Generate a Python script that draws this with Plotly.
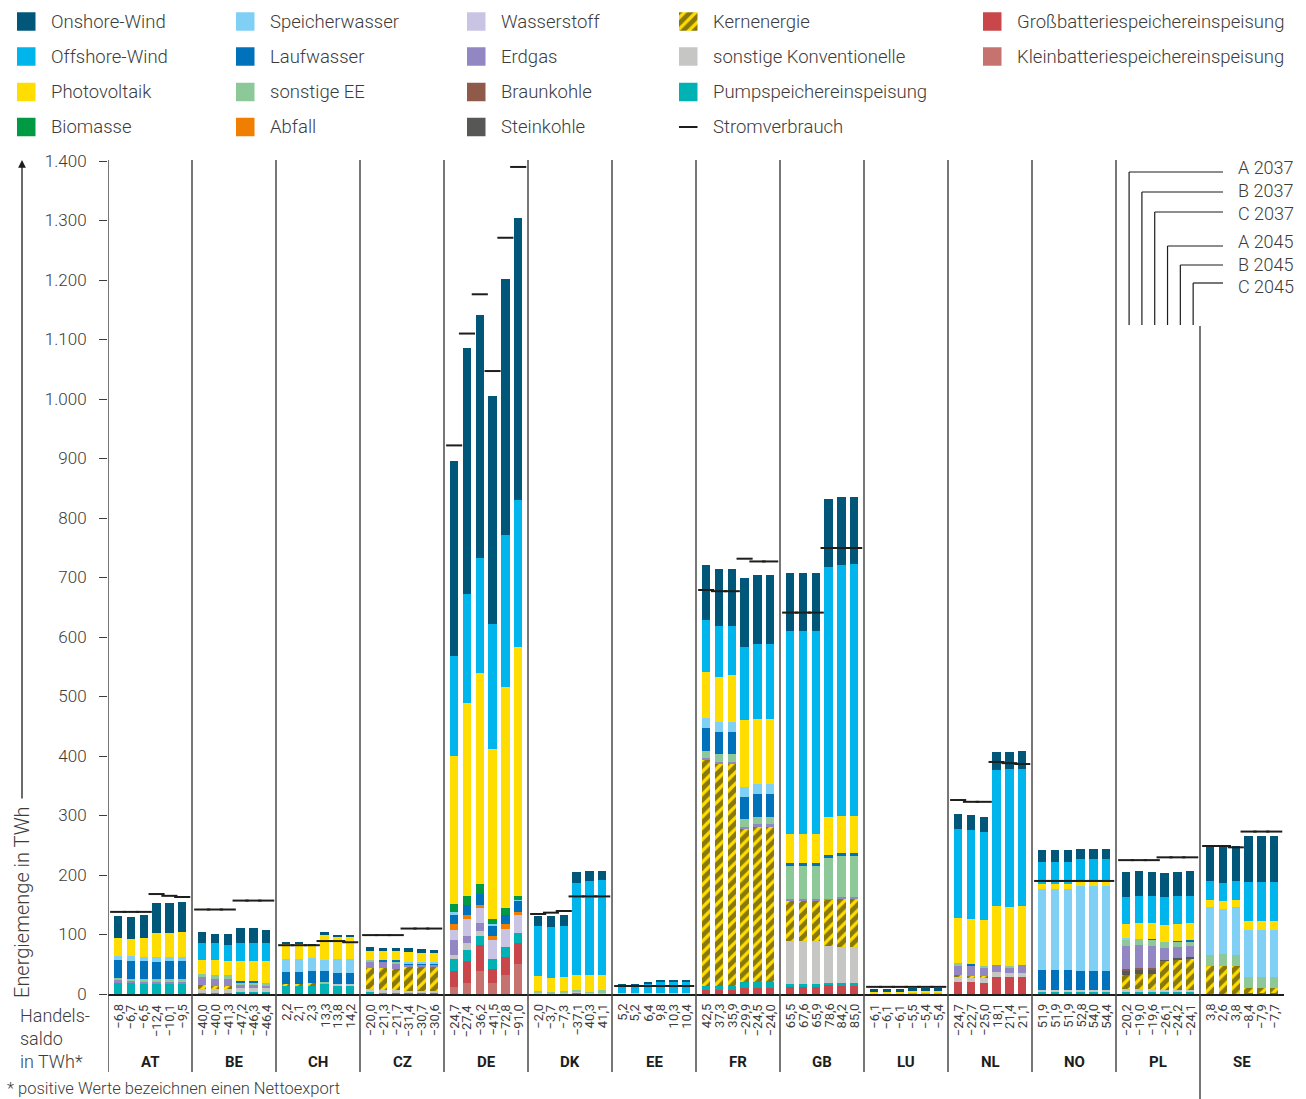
import plotly.graph_objects as go

W, H = 1306, 1099
countries = ["AT", "BE", "CH", "CZ", "DE", "DK", "EE", "FR", "GB", "LU", "NL", "NO", "PL", "SE"]
scenarios = ["A 2037", "B 2037", "C 2037", "A 2045", "B 2045", "C 2045"]

# ---- values (TWh), 6 scenarios per country, countries in the order above ----
kleinbatterie = [0]*6 + [0]*6 + [0]*6 + [0]*6 + [12, 18, 38.7, 18.5, 32, 50.4] + [0]*6*9
grossbatterie = ([0]*6 + [0, 0, 0, 3, 3, 3] + [0.8, 0.8, 0.8, 0, 0, 0] + [1, 1, 1, 0.5, 0.5, 0.5]
                 + [26, 37, 43.7, 23.5, 30, 35.3] + [0, 0, 0, 1.5, 0, 0] + [0]*6
                 + [6.7, 6.7, 6.7, 10, 10, 10] + [11.8, 11.8, 11.8, 15, 13.4, 13.4] + [0]*6
                 + [20, 20, 18.5, 28.6, 28.6, 28.6] + [0]*6 + [0]*6 + [0, 0, 0, 2.2, 2.2, 2.2])
pumpspeicher = ([18, 18, 17, 17, 17, 17] + [2, 2, 2, 1, 1, 1] + [12, 12, 12, 16, 13, 13]
                + [2, 2, 2, 2.5, 2.5, 2.5] + [20, 19, 15, 17, 17, 16.8] + [1, 0, 1, 1, 0, 0]
                + [0]*6 + [7.3, 7.3, 7.3, 10, 10, 10] + [5, 5, 5, 3.5, 5, 5] + [0.5]*6
                + [0]*6 + [4]*6 + [3.9, 3.9, 3.9, 3.4, 3.4, 3.4] + [0]*6)
sonst_konv = ([0]*6 + [7, 7, 7, 6, 6, 6] + [0, 0, 0, 0, 4.5, 4.5] + [5, 3, 3, 2.8, 2.8, 2.8]
              + [7, 12, 8.5, 0, 0, 0] + [1, 1.4, 1, 1, 2, 1.7] + [0]*6 + [0]*6
              + [72.2, 72.2, 72.2, 62.2, 60.5, 60.5] + [0]*6 + [8.6, 7, 8.5, 8.4, 6.7, 6.7]
              + [2.7]*6 + [4.5, 4.5, 4.5, 3.3, 3.3, 3.3] + [0]*6)
kernenergie = ([0]*6 + [6, 5, 5, 0, 0, 0] + [4.5, 4.5, 6.5, 0, 0, 0] + [35, 37, 36, 39, 39, 39]
               + [0]*6 + [0]*6 + [0]*6 + [380, 372.5, 372.5, 258.4, 260.7, 260.7]
               + [67.3, 67.3, 67.3, 77.3, 80.7, 80.7] + [0]*6 + [3.4, 3, 3.5, 0, 0, 0]
               + [0]*6 + [23.6, 25.6, 25.6, 49.3, 51, 51.5] + [47.6, 47.6, 47.6, 8.4, 8.4, 8.4])
steinkohle = [0]*6*12 + [6.7, 6.3, 6.3, 1.7, 2.8, 3.4] + [0]*6
braunkohle = [0]*6*12 + [3.3, 3.4, 3.9, 0, 0, 0] + [0]*6
erdgas = ([5, 4, 4, 4, 4, 4] + [14, 12, 11, 6, 6, 5] + [0]*6 + [10, 11, 10, 4.5, 4.5, 4.5]
          + [25, 12, 13.5, 0, 0, 0] + [0]*6 + [0]*6 + [3, 3.5, 3.5, 2.3, 5, 5]
          + [3.4, 3.4, 3.4, 1.7, 3.4, 3.4] + [0]*6 + [16.7, 17, 14, 11.8, 10, 13.4]
          + [0]*6 + [39, 38.7, 37, 20, 19, 18.5] + [0]*6)
wasserstoff = [0]*6*4 + [18, 28.5, 25, 32, 30, 30.5] + [0]*6*9
abfall = [0]*6*4 + [9, 7, 5, 6.5, 8.5, 5] + [0]*6*9
sonstige_ee = ([3.5, 3.5, 4.5, 4.5, 4.5, 4.5] + [4, 6, 7, 3, 3, 3] + [0, 0, 0, 3.4, 0, 0]
               + [4.5, 0, 3, 0, 0, 0] + [0]*6 + [3, 2, 3, 3, 2, 5] + [0, 0, 0, 1, 1, 1]
               + [11, 13, 13, 13.7, 11.8, 11.8] + [55.5, 55.5, 55.5, 68.3, 69, 69] + [1]*6
               + [3.3, 0, 3, 0, 1.7, 0] + [0]*6 + [11, 10, 10, 9.5, 8.4, 8.4]
               + [18, 19.6, 18, 18, 18, 18])
laufwasser = ([30, 30, 30, 29, 30, 30] + [0, 0, 0, 2.8, 2.8, 0] + [19, 19, 19, 20, 18.5, 18.5]
              + [0, 3, 2, 2, 2, 2] + [15, 16, 18.5, 16.5, 15.5, 18.5] + [0]*6 + [0]*6
              + [39, 37, 37, 37, 38.5, 38.5] + [5]*6 + [0]*6 + [0, 3.4, 0, 0, 0, 0]
              + [33.7, 33.7, 33.7, 32, 32, 32] + [0, 0, 1.7, 0, 1.7, 1.7] + [0]*6)
speicherwasser = ([8, 8, 7, 8, 6, 7] + [0]*6 + [22, 22, 22, 18.5, 22, 22] + [0, 0, 0, 2, 2, 2]
                  + [5, 0, 0, 3.5, 0, 1.5] + [0]*6 + [0]*6 + [17]*6 + [0]*6 + [0]*6 + [0]*6
                  + [136, 136, 136, 143.3, 143.3, 143.3] + [2.7, 0, 0, 0, 0, 0]
                  + [80.5, 75.8, 80.5, 79, 79, 79])
biomasse = [0]*6*4 + [15, 15.5, 17, 8.5, 11.5, 6.7] + [0]*6*9
photovoltaik = ([29, 29, 32, 40, 41, 41] + [24, 25, 23.5, 33.6, 33.6, 37.5] + [25, 25, 22, 41, 37, 39]
                + [15, 16, 16, 17, 16, 16] + [248, 324, 354, 286, 371.5, 418]
                + [25, 23.6, 23.6, 25.3, 28, 25.3] + [1.7, 1.7, 1.7, 1, 1, 1]
                + [77, 76, 79, 112.5, 109, 109] + [49, 49, 49, 64, 62, 62] + [2, 2, 2, 3.5, 3.5, 3.5]
                + [75.7, 75.6, 77.4, 99.2, 99, 99.3] + [9, 9, 9, 7, 7, 7]
                + [23.3, 27.3, 26.3, 28.6, 28.6, 28.6] + [12, 13.3, 12, 15, 15, 15])
offshore = ([0]*6 + [29, 28.5, 27, 30, 30, 30] + [0]*6 + [0]*6 + [168, 183, 194, 210, 255, 247]
            + [84, 85.6, 86, 154.5, 158, 159.6] + [10.6, 10.6, 14.6, 17.4, 17.4, 17.4]
            + [87.5, 85.5, 82.5, 122.5, 126, 126] + [341, 341, 341, 420, 422, 423.7] + [0]*6
            + [149.6, 149.6, 148, 228.5, 232, 230] + [36.4, 36.4, 36.4, 38, 38, 38]
            + [45, 45.4, 45.4, 47, 46.4, 46.4] + [32, 30.2, 32, 65.6, 65.6, 65.6])
onshore = ([37.5, 37.5, 37.5, 50.5, 50.5, 50.5] + [18.5, 15, 18.5, 25, 25, 22] + [4, 4, 2, 5, 5, 2.8]
           + [7, 5, 5, 7, 7, 5] + [327, 414, 408, 383, 431, 474] + [17, 18.4, 18.4, 18.5, 17, 15.4]
           + [4.5, 4.5, 3.7, 4, 4, 4] + [92.4, 95.5, 95.5, 116, 116, 116]
           + [97.6, 97.6, 97.6, 114.4, 114, 112.3] + [5.5]*6 + [24.8, 25.2, 25.2, 30.2, 28.7, 30.4]
           + [20.2, 20.2, 20.2, 16.8, 16.8, 16.8] + [42.6, 40.9, 40.9, 41, 40.9, 40.9]
           + [59.3, 62.8, 59.3, 77.5, 77.5, 77.5])
stromverbrauch = ([138, 138, 138, 168, 165, 163] + [142, 142, 142, 157, 157, 157] + [82, 82, 82, 89, 89, 87]
                  + [99, 99, 99, 110, 110, 110] + [922, 1110, 1176, 1047, 1271, 1390]
                  + [134.5, 136.7, 139.5, 164, 164, 164] + [13.4]*6 + [679, 677, 677, 731.6, 727, 727]
                  + [641, 641, 641, 749.6, 749.6, 749.6] + [12]*6 + [326, 323, 323, 390, 388, 386.5]
                  + [190]*6 + [225, 225, 225, 229.7, 229.7, 229.7] + [248.7, 248.7, 246.5, 273, 273, 273])
handelssaldo = ([-6.8, -6.7, -6.5, -12.4, -10.1, -9.5] + [-40.0, -40.0, -41.3, -47.2, -46.3, -46.4]
                + [2.2, 2.1, 2.3, 13.3, 13.8, 14.2] + [-20.0, -21.3, -21.7, -31.4, -30.7, -30.6]
                + [-24.7, -27.4, -36.2, -41.5, -72.8, -91.0] + [-2.0, -3.7, -7.3, -37.1, 40.3, 41.1]
                + [5.2, 5.2, 6.4, 9.8, 10.3, 10.4] + [42.5, 37.3, 35.9, -29.9, -24.5, -24.0]
                + [65.5, 67.6, 65.9, 78.6, 84.2, 85.0] + [-6.1, -6.1, -6.1, -5.5, -5.4, -5.4]
                + [-24.7, -22.7, -25.0, 18.1, 21.4, 21.1] + [51.9, 51.9, 51.9, 52.8, 54.0, 54.4]
                + [-20.2, -19.0, -19.6, -26.1, -24.2, -24.1] + [3.8, 2.6, 3.8, -8.4, -7.9, -7.7])

y_ticks = list(range(0, 1401, 100))

# stacking order bottom -> top: (name, values, colour)
series = [
    ("Kleinbatteriespeichereinspeisung", kleinbatterie, "#c6736f"),
    ("Großbatteriespeichereinspeisung", grossbatterie, "#c9474a"),
    ("Pumpspeichereinspeisung", pumpspeicher, "#00b2b4"),
    ("sonstige Konventionelle", sonst_konv, "#c6c6c5"),
    ("Kernenergie", kernenergie, "#ffdd00"),
    ("Steinkohle", steinkohle, "#575756"),
    ("Braunkohle", braunkohle, "#8f5a4a"),
    ("Erdgas", erdgas, "#9287c2"),
    ("Wasserstoff", wasserstoff, "#c9c4e3"),
    ("Abfall", abfall, "#f07e00"),
    ("sonstige EE", sonstige_ee, "#8cc898"),
    ("Laufwasser", laufwasser, "#0072bb"),
    ("Speicherwasser", speicherwasser, "#80cff5"),
    ("Biomasse", biomasse, "#009a44"),
    ("Photovoltaik", photovoltaik, "#ffdd00"),
    ("Offshore-Wind", offshore, "#00b4ec"),
    ("Onshore-Wind", onshore, "#00577a"),
]
colors = {n: c for n, _, c in series}
HATCH = dict(shape="/", fgcolor="#111111", bgcolor="#ffdd00", size=8, solidity=0.6)

# ---- geometry helpers (pixel -> paper) ----
PX0, PX1, PY0, PY1 = 108, 1284, 994, 161
def px(x):
    return x / W
def py(y):
    return 1 - y / H
def xd(x):  # pixel -> x data
    return (x - PX0) / ((PX1 - PX0) / 14)

bar_x = [g + 0.121 + 0.1525 * i for g in range(len(countries)) for i in range(6)]

FONT = "Roboto, 'Open Sans', sans-serif"
TXT = "#3c3c3b"

fig = go.Figure()
for name, vals, col in series:
    marker = dict(color=col, line=dict(width=0))
    if name == "Kernenergie":
        marker["pattern"] = HATCH
    fig.add_trace(go.Bar(x=bar_x, y=vals, width=0.1, name=name, marker=marker,
                         showlegend=False, hoverinfo="skip"))

fig.add_trace(go.Scatter(x=bar_x, y=stromverbrauch, mode="markers", name="Stromverbrauch",
                         marker=dict(symbol="line-ew", size=11.5, line=dict(width=2, color="#1d1d1b")),
                         showlegend=False, hoverinfo="skip"))

# hatched legend swatch for Kernenergie on its own tiny axis
fig.add_trace(go.Bar(x=[0.5], y=[1], width=1, xaxis="x2", yaxis="y2", showlegend=False,
                     hoverinfo="skip", marker=dict(color="#ffdd00", line=dict(width=0), pattern=HATCH)))

shapes = []
annotations = []

# dividers
for g in range(len(countries)):
    if g == 13:
        shapes.append(dict(type="line", xref="x", yref="paper", x0=g, x1=g, y0=py(326), y1=py(1099),
                           line=dict(color="#4a4a49", width=1.5)))
    else:
        shapes.append(dict(type="line", xref="x", yref="paper", x0=g, x1=g, y0=py(160), y1=py(1072),
                           line=dict(color="#4a4a49", width=1.5)))
    annotations.append(dict(x=g + 0.5, y=py(1062), xref="x", yref="paper", text=f"<b>{countries[g]}</b>",
                            xanchor="center", yanchor="middle", showarrow=False,
                            font=dict(size=15, color="#1d1d1b", family=FONT)))

# trade balance numbers
for xv, v in zip(bar_x, handelssaldo):
    s = f"{abs(v):.1f}".replace(".", ",")
    if v < 0:
        s = "\u2212" + s
    annotations.append(dict(x=xv, y=py(1002), xref="x", yref="paper", text=s, textangle=-90,
                            xanchor="center", yanchor="top", showarrow=False,
                            font=dict(size=13, color=TXT, family=FONT)))

# scenario bracket over PL
line_y = [172, 192, 212, 246, 265, 283]
label_y = [168, 190, 213, 242, 264, 287]
for i in range(6):
    bx = 12 + 0.121 + 0.1525 * i + 0.035
    shapes.append(dict(type="line", xref="x", yref="paper", x0=bx, x1=bx, y0=py(325), y1=py(line_y[i]),
                       line=dict(color="#1d1d1b", width=1.2)))
    shapes.append(dict(type="line", xref="x", yref="paper", x0=bx, x1=xd(1223), y0=py(line_y[i]),
                       y1=py(line_y[i]), line=dict(color="#1d1d1b", width=1.2)))
    annotations.append(dict(x=px(1236), y=py(label_y[i]), xref="paper", yref="paper", text=scenarios[i],
                            xanchor="left", yanchor="middle", showarrow=False,
                            font=dict(size=18, color=TXT, family=FONT, weight=300)))

# legend (manual, column-major)
legend_cols = [
    (17, ["Onshore-Wind", "Offshore-Wind", "Photovoltaik", "Biomasse"]),
    (236, ["Speicherwasser", "Laufwasser", "sonstige EE", "Abfall"]),
    (467, ["Wasserstoff", "Erdgas", "Braunkohle", "Steinkohle"]),
    (679, ["Kernenergie", "sonstige Konventionelle", "Pumpspeichereinspeisung", "Stromverbrauch"]),
    (983, ["Großbatteriespeichereinspeisung", "Kleinbatteriespeichereinspeisung"]),
]
row_y = [21.5, 56.5, 92, 127]
for cx, names in legend_cols:
    for r, n in enumerate(names):
        yc = row_y[r]
        if n == "Stromverbrauch":
            shapes.append(dict(type="line", xref="paper", yref="paper", x0=px(cx), x1=px(cx + 18.5),
                               y0=py(yc), y1=py(yc), line=dict(color="#1d1d1b", width=2)))
        elif n != "Kernenergie":
            shapes.append(dict(type="rect", xref="paper", yref="paper", x0=px(cx), x1=px(cx + 18.5),
                               y0=py(yc + 9.25), y1=py(yc - 9.25), fillcolor=colors[n], line=dict(width=0)))
        annotations.append(dict(x=px(cx + 32), y=py(yc), xref="paper", yref="paper", text=n,
                                xanchor="left", yanchor="middle", showarrow=False,
                                font=dict(size=18.5, color=TXT, family=FONT, weight=300)))

# axis title with arrow
annotations.append(dict(x=px(22), y=py(902), xref="paper", yref="paper", text="Energiemenge in TWh",
                        textangle=-90, xanchor="center", yanchor="middle", showarrow=False,
                        font=dict(size=20, color=TXT, family=FONT, weight=300)))
annotations.append(dict(x=px(22), y=py(160), xref="paper", yref="paper", text="", showarrow=True,
                        ax=0, ay=640, arrowhead=2, arrowsize=1.2, arrowwidth=1.3, arrowcolor="#1d1d1b"))

# trade balance caption and footnote
for t, yy in [("Handels-", 1015), ("saldo", 1038), ("in TWh*", 1061)]:
    annotations.append(dict(x=px(18), y=py(yy), xref="paper", yref="paper", text=t, xanchor="left",
                            yanchor="middle", showarrow=False,
                            font=dict(size=18, color=TXT, family=FONT, weight=300)))
annotations.append(dict(x=px(5), y=py(1088), xref="paper", yref="paper",
                        text="* positive Werte bezeichnen einen Nettoexport", xanchor="left",
                        yanchor="middle", showarrow=False,
                        font=dict(size=16.5, color=TXT, family=FONT, weight=300)))

fig.update_layout(
    width=W, height=H, autosize=False,
    margin=dict(l=0, r=0, t=0, b=0, pad=0, autoexpand=False),
    paper_bgcolor="white", plot_bgcolor="white",
    barmode="stack", bargap=0, separators=",.",
    font=dict(family=FONT, color=TXT),
    showlegend=False,
    xaxis=dict(domain=[px(PX0), px(PX1)], range=[0, 14], showticklabels=False, ticks="",
               showgrid=False, zeroline=False, showline=True, linecolor="#1d1d1b", linewidth=2,
               automargin=False),
    yaxis=dict(domain=[py(PY0), py(PY1)], range=[0, 1400], tickvals=y_ticks, tickformat=",",
               ticks="outside", ticklen=8, tickwidth=1.3, tickcolor="#3c3c3b",
               ticklabelstandoff=9, showgrid=False, zeroline=False, showline=False,
               automargin=False, tickfont=dict(size=17, color=TXT, family=FONT, weight=300)),
    xaxis2=dict(domain=[px(679), px(697.5)], range=[0, 1], visible=False, anchor="y2", automargin=False),
    yaxis2=dict(domain=[py(30.75), py(12.25)], range=[0, 1], visible=False, anchor="x2", automargin=False),
    shapes=shapes, annotations=annotations,
)

fig.write_html("out.html", config={"displayModeBar": False},
               post_script="document.body.style.margin='0';")
